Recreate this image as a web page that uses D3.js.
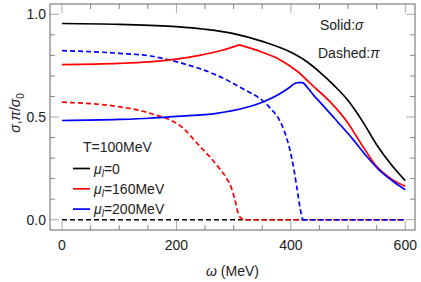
<!DOCTYPE html>
<html>
<head>
<meta charset="utf-8">
<script src="https://cdn.jsdelivr.net/npm/d3@7"></script>
<style>
  body { margin: 0; background: #fff; }
  text { font-family: "Liberation Sans", Arial, sans-serif; fill: #222; }
</style>
</head>
<body>
<svg id="chart"></svg>
<script>
// sigma / sigma0 for three isospin chemical potentials (solid)
const sigmaMu0 = [[0,.955],[100,.951],[200,.94],[250,.927],[300,.906],[350,.868],[400,.815],[425,.775],[450,.72],[475,.655],[500,.58],[525,.48],[550,.365],[575,.27],[600,.19]];
const sigmaMu160 = [[0,.755],[100,.761],[150,.768],[200,.782],[240,.80],[280,.825],[310,.851],[350,.815],[380,.78],[410,.725],[440,.648],[470,.57],[500,.47],[525,.36],[550,.26],[575,.2],[600,.163]];
const sigmaMu200 = [[0,.483],[100,.488],[154,.494],[200,.503],[270,.518],[320,.545],[352,.574],[380,.612],[398,.645],[405,.66],[412,.668],[420,.667],[430,.64],[440,.605],[450,.575],[480,.482],[509,.39],[532,.31],[555,.24],[579,.186],[600,.146]];
// pi / sigma0 (dashed)
const piMu0 = [[0,0],[600,0]];
const piMu160 = [[0,.572],[100,.55],[154,.518],[212,.445],[240,.36],[258,.307],[275,.25],[288,.2],[296,.155],[302,.1],[308,.03],[314,.005],[320,0],[600,0]];
const piMu200 = [[0,.823],[100,.81],[154,.797],[212,.76],[270,.704],[317,.636],[352,.576],[365,.54],[378,.495],[390,.42],[398,.345],[405,.25],[412,.13],[418,.03],[421,0],[600,0]];

const xMajor = [0, 200, 400, 600];
const yMajor = [0, 0.5, 1.0];

const series = [
  { data: piMu0, color: "#000", dash: true },
  { data: piMu160, color: "#f00", dash: true },
  { data: piMu200, color: "#00f", dash: true },
  { data: sigmaMu0, color: "#000", dash: false },
  { data: sigmaMu160, color: "#f00", dash: false },
  { data: sigmaMu200, color: "#00f", dash: false }
];
const legendItems = [
  { label: "=0", color: "#000" },
  { label: "=160MeV", color: "#f00" },
  { label: "=200MeV", color: "#00f" }
];

const width = 421, height = 282;
const margin = { top: 4, right: 6, bottom: 52, left: 50 };

const svg = d3.select("#chart").attr("width", width).attr("height", height);

const x = d3.scaleLinear().domain([-21, 617]).range([margin.left, width - margin.right]);
const y = d3.scaleLinear().domain([-0.05, 1.05]).range([height - margin.bottom, margin.top]);

const x0 = margin.left, x1 = width - margin.right;
const y0 = height - margin.bottom, y1 = margin.top;

// minor ticks
const xMinor = d3.range(0, 601, 50).filter(d => !xMajor.includes(d));
const yMinor = d3.range(0, 11).map(d => d / 10).filter(d => !yMajor.some(m => Math.abs(m - d) < 1e-6));

const ticks = svg.append("g").attr("stroke", "#888").attr("stroke-width", 1);
xMajor.forEach(d => {
  ticks.append("line").attr("x1", x(d)).attr("x2", x(d)).attr("y1", y0).attr("y2", y0 - 9).attr("stroke", "#aaa");
  ticks.append("line").attr("x1", x(d)).attr("x2", x(d)).attr("y1", y1).attr("y2", y1 + 9).attr("stroke", "#aaa");
});
xMinor.forEach(d => {
  ticks.append("line").attr("x1", x(d)).attr("x2", x(d)).attr("y1", y0).attr("y2", y0 - 5);
  ticks.append("line").attr("x1", x(d)).attr("x2", x(d)).attr("y1", y1).attr("y2", y1 + 5);
});
yMajor.forEach(d => {
  ticks.append("line").attr("y1", y(d)).attr("y2", y(d)).attr("x1", x0).attr("x2", x0 + 9).attr("stroke", "#aaa");
  ticks.append("line").attr("y1", y(d)).attr("y2", y(d)).attr("x1", x1).attr("x2", x1 - 9).attr("stroke", "#aaa");
});
yMinor.forEach(d => {
  ticks.append("line").attr("y1", y(d)).attr("y2", y(d)).attr("x1", x0).attr("x2", x0 + 5);
  ticks.append("line").attr("y1", y(d)).attr("y2", y(d)).attr("x1", x1).attr("x2", x1 - 5);
});

// tick labels
svg.append("g").selectAll("text").data(xMajor).join("text")
  .attr("x", d => x(d)).attr("y", y0 + 20)
  .attr("text-anchor", "middle").attr("font-size", 14)
  .text(d => d);
svg.append("g").selectAll("text").data(yMajor).join("text")
  .attr("x", x0 - 4).attr("y", d => y(d) + 5)
  .attr("text-anchor", "end").attr("font-size", 14)
  .text(d => d3.format(".1f")(d));

// curves: split at the kink (peak of sigma, onset of pi = 0) so it stays sharp
function pieces(s) {
  const vals = s.data.map(d => d[1]);
  const k = s.dash ? vals.findIndex(v => v <= 0) : d3.maxIndex(vals);
  if (k <= 0 || k >= vals.length - 1) return [s.data];
  return [s.data.slice(0, k + 1), s.data.slice(k)];
}
const line = d3.line().x(d => x(d[0])).y(d => y(d[1])).curve(d3.curveMonotoneX);
const curveG = svg.append("g");
series.forEach(s => {
  curveG.append("path")
    .attr("d", pieces(s).map(p => line(p)).join(""))
    .attr("fill", "none")
    .attr("stroke", s.color)
    .attr("stroke-width", 1.7)
    .attr("stroke-linejoin", "round")
    .attr("stroke-dasharray", s.dash ? "5,3" : null);
});

// frame
svg.append("rect").attr("x", x0).attr("y", y1).attr("width", x1 - x0).attr("height", y0 - y1)
  .attr("fill", "none").attr("stroke", "#666").attr("stroke-width", 1);

// axis labels
svg.append("text").attr("x", (x0 + x1) / 2).attr("y", 276).attr("text-anchor", "middle").attr("font-size", 14)
  .html('<tspan font-style="italic">ω</tspan> (MeV)');
svg.append("text").attr("transform", `translate(20,${(y0 + y1) / 2 - 4}) rotate(-90)`)
  .attr("text-anchor", "middle").attr("font-size", 14)
  .html('<tspan font-style="italic">σ</tspan>,<tspan font-style="italic">π</tspan>/<tspan font-style="italic">σ</tspan><tspan font-size="10" dy="4">0</tspan>');

// annotations
svg.append("text").attr("x", 320).attr("y", 30).attr("font-size", 14)
  .html('Solid:<tspan font-style="italic">σ</tspan>');
svg.append("text").attr("x", 318).attr("y", 58).attr("font-size", 14)
  .html('Dashed:<tspan font-style="italic">π</tspan>');

// legend
svg.append("text").attr("x", 83).attr("y", 152).attr("font-size", 14).text("T=100MeV");
const leg = svg.append("g").selectAll("g").data(legendItems).join("g")
  .attr("transform", (d, i) => `translate(73,${168.5 + i * 20.3})`);
leg.append("line").attr("x1", 0).attr("x2", 17).attr("stroke", d => d.color).attr("stroke-width", 1.7);
leg.append("text").attr("x", 21).attr("y", 5).attr("font-size", 14)
  .html(d => `<tspan font-style="italic">μ</tspan><tspan font-style="italic" font-size="10" dy="3">l</tspan><tspan dy="-3">${d.label}</tspan>`);
</script>
</body>
</html>
